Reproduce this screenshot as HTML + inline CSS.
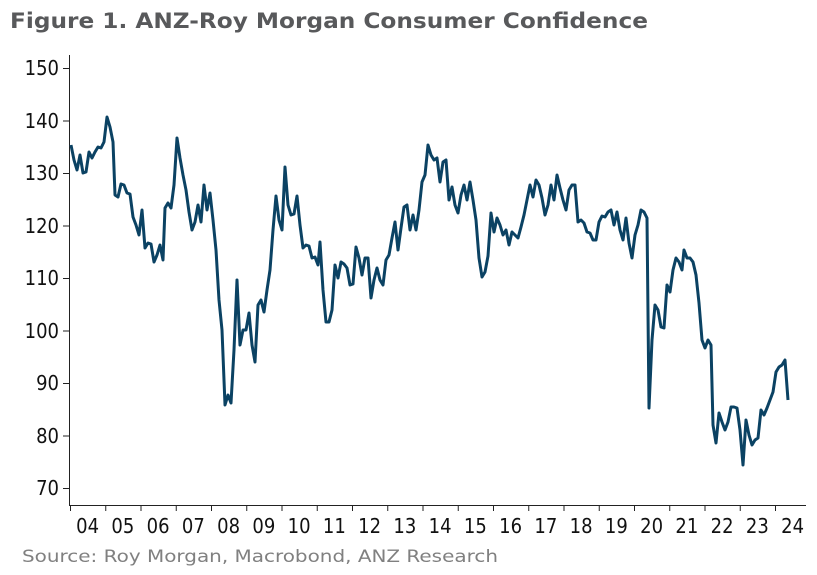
<!DOCTYPE html>
<html><head><meta charset="utf-8"><style>
html,body{margin:0;padding:0;background:#fff;}
svg{display:block;}
</style></head><body>
<svg width="817" height="575" viewBox="0 0 817 575" xmlns="http://www.w3.org/2000/svg">
<text x="10" y="28" font-family="DejaVu Sans, Liberation Sans, sans-serif" font-weight="bold" font-size="21" fill="#58595b" textLength="638" lengthAdjust="spacingAndGlyphs">Figure 1. ANZ-Roy Morgan Consumer Confidence</text>
<g stroke="#222" stroke-width="1" fill="none">
<line x1="69.5" y1="55" x2="69.5" y2="505"/>
<line x1="69" y1="505.5" x2="806" y2="505.5"/>
<line x1="63" y1="68.5" x2="69" y2="68.5"/>
<line x1="63" y1="121" x2="69" y2="121"/>
<line x1="63" y1="173.5" x2="69" y2="173.5"/>
<line x1="63" y1="226" x2="69" y2="226"/>
<line x1="63" y1="278.5" x2="69" y2="278.5"/>
<line x1="63" y1="331" x2="69" y2="331"/>
<line x1="63" y1="383.5" x2="69" y2="383.5"/>
<line x1="63" y1="436" x2="69" y2="436"/>
<line x1="63" y1="488.5" x2="69" y2="488.5"/>
</g>
<g font-family="DejaVu Sans Condensed, DejaVu Sans, sans-serif" font-size="20" fill="#111" text-anchor="end">
<text x="59" y="75">150</text><text x="59" y="128">140</text><text x="59" y="180">130</text><text x="59" y="233">120</text><text x="59" y="285">110</text><text x="59" y="338">100</text><text x="59" y="390">90</text><text x="59" y="443">80</text><text x="59" y="495">70</text>
</g>
<g stroke="#222" stroke-width="1" id="xt"></g>
<g font-family="DejaVu Sans Condensed, DejaVu Sans, sans-serif" font-size="20" fill="#111" text-anchor="middle" id="xl"></g>
<polyline fill="none" stroke="#0b4263" stroke-width="3" stroke-linejoin="round" points="71,145 74,160 77,170 80,155 83,173 86,172 89,152 92,158 95,152 98,147 101,148 104,142 107,117 110,127 113,142 115,195 118,197 121,184 124,185 127,193 130,194 133,217 136,225 139,235 142,210 145,248 148,243 151,244 154,262 157,255 160,245 163,260 165,208 168,203 171,208 174,185 177,138 180,158 183,175 186,190 189,212 192,230 195,222 198,205 201,222 204,185 207,210 210,193 213,220 216,250 219,300 222,330 225,405 228,395 231,403 234,350 237,280 240,345 243,330 246,330 249,313 252,345 255,362 258,305 261,300 264,312 267,290 270,270 273,230 276,196 279,220 282,230 285,167 288,205 291,215 294,214 297,196 300,225 303,248 306,245 309,246 312,258 315,257 318,265 320,242 323,290 326,322 329,322 332,310 335,265 338,278 341,262 344,264 347,268 350,285 353,284 356,247 359,258 362,275 365,258 368,258 371,298 374,280 377,268 380,280 383,285 386,260 389,255 392,238 395,222 398,250 401,228 404,207 407,205 410,230 413,215 416,230 419,210 422,182 425,175 428,145 431,155 434,160 437,158 440,182 443,162 446,160 449,200 452,187 455,205 458,213 461,195 464,185 467,200 470,182 473,200 476,220 479,258 482,277 485,272 488,256 491,213 494,232 497,218 500,225 503,235 506,230 509,245 512,232 515,235 518,238 521,227 524,215 527,200 530,185 533,197 536,180 539,185 542,198 545,215 548,205 551,185 554,200 557,175 560,188 563,200 566,210 569,190 572,185 575,185 578,222 581,220 584,223 587,232 590,233 593,240 596,240 599,222 602,216 605,217 608,212 611,210 614,225 617,212 620,230 623,240 626,218 629,243 632,258 635,235 638,225 641,210 644,212 647,218 649,408 652,340 655,305 658,310 661,327 664,328 667,285 670,292 673,270 676,258 679,262 682,270 684,250 687,258 690,258 693,262 696,275 699,303 702,340 705,348 708,340 711,345 713,425 716,443 719,413 722,422 725,430 728,422 731,407 734,407 737,408 740,430 743,465 746,420 749,435 752,445 755,440 758,438 761,410 764,415 767,408 770,400 773,392 776,372 779,367 782,365 785,360 788,400"/>
<text x="22" y="562" font-family="DejaVu Sans, Liberation Sans, sans-serif" font-size="17" fill="#808080" textLength="476" lengthAdjust="spacingAndGlyphs">Source: Roy Morgan, Macrobond, ANZ Research</text>
<script>
var t=document.getElementById('xt'),l=document.getElementById('xl'),ns='http://www.w3.org/2000/svg';
for(var i=0;i<=20;i++){var x=70+i*35.25;var ln=document.createElementNS(ns,'line');ln.setAttribute('x1',x+0.5);ln.setAttribute('x2',x+0.5);ln.setAttribute('y1',505);ln.setAttribute('y2',511);t.appendChild(ln);
var tx=document.createElementNS(ns,'text');tx.setAttribute('x',x+17.6);tx.setAttribute('y',533);tx.textContent=String(4+i).padStart(2,'0');l.appendChild(tx);}
</script>
</svg>
</body></html>
